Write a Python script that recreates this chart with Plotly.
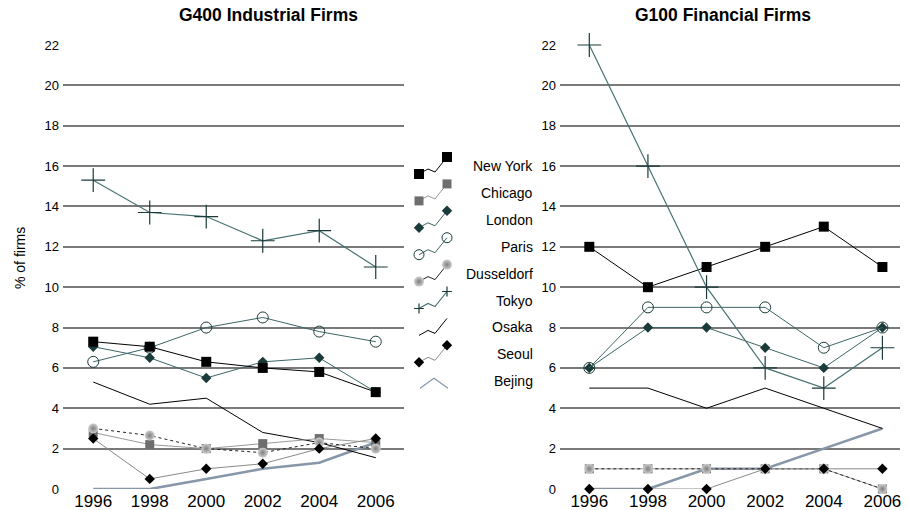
import plotly.graph_objects as go

years = [1996, 1998, 2000, 2002, 2004, 2006]
cities = ["New York", "Chicago", "London", "Paris", "Dusseldorf", "Tokyo", "Osaka", "Seoul", "Bejing"]

# G400 Industrial Firms (% of firms)
ind_new_york = [7.3, 7.05, 6.3, 6.0, 5.8, 4.8]
ind_chicago = [2.8, 2.2, 2.0, 2.25, 2.5, 2.3]
ind_london = [7.05, 6.5, 5.5, 6.3, 6.5, 4.8]
ind_paris = [6.3, 7.0, 8.0, 8.5, 7.8, 7.3]
ind_dusseldorf = [3.0, 2.65, 2.0, 1.8, 2.3, 2.0]
ind_tokyo = [15.3, 13.7, 13.5, 12.3, 12.8, 11.0]
ind_osaka = [5.3, 4.2, 4.5, 2.8, 2.3, 1.55]
ind_seoul = [2.5, 0.5, 1.0, 1.25, 2.0, 2.5]
ind_beijing = [0.0, 0.0, 0.5, 1.0, 1.3, 2.3]

# G100 Financial Firms (% of firms)
fin_new_york = [12, 10, 11, 12, 13, 11]
fin_chicago = [1, 1, 1, 1, 1, 0]
fin_london = [6, 8, 8, 7, 6, 8]
fin_paris = [6, 9, 9, 9, 7, 8]
fin_dusseldorf = [1, 1, 1, 1, 1, 0]
fin_tokyo = [22, 16, 10, 6, 5, 7]
fin_osaka = [5, 5, 4, 5, 4, 3]
fin_seoul = [0, 0, 0, 1, 1, 1]
fin_beijing = [0, 0, 1, 1, 2, 3]

y_ticks = list(range(0, 23, 2))

industrial = [ind_new_york, ind_chicago, ind_london, ind_paris, ind_dusseldorf,
              ind_tokyo, ind_osaka, ind_seoul, ind_beijing]
financial = [fin_new_york, fin_chicago, fin_london, fin_paris, fin_dusseldorf,
             fin_tokyo, fin_osaka, fin_seoul, fin_beijing]

TEAL = "#3d6666"
DARK = "#1b3a3a"
styles = {
    "New York": dict(line=dict(color="#000000", width=1),
                     marker=dict(symbol="square", size=10, color="#000000")),
    "Chicago": dict(line=dict(color="#9a9a9a", width=1),
                    marker=dict(symbol="square", size=9, color="#6e6e6e")),
    "London": dict(line=dict(color=TEAL, width=1),
                   marker=dict(symbol="diamond", size=8, color=DARK)),
    "Paris": dict(line=dict(color=TEAL, width=1),
                  marker=dict(symbol="circle-open", size=11, color=DARK, line=dict(width=1))),
    "Dusseldorf": dict(line=dict(color="#222222", width=1, dash="dot"),
                       marker=dict(symbol="circle", size=10, color="#cfcfcf",
                                   gradient=dict(type="radial", color="#7e7e7e"))),
    "Tokyo": dict(line=dict(color="#4a7272", width=1.2),
                  marker=dict(symbol="cross-thin", size=17, color=DARK,
                              line=dict(width=1.2, color=DARK))),
    "Osaka": dict(line=dict(color="#000000", width=1), marker=None),
    "Seoul": dict(line=dict(color="#8a8a8a", width=1),
                  marker=dict(symbol="diamond", size=8, color="#000000")),
    "Bejing": dict(line=dict(color="#8796a8", width=2.6), marker=None),
}

fig = go.Figure()

def add_series(values, name, xa, ya):
    st = styles[name]
    kw = dict(x=years, y=values, name=name, xaxis=xa, yaxis=ya,
              showlegend=False, line=st["line"], cliponaxis=False)
    if st["marker"] is None:
        kw["mode"] = "lines"
    else:
        kw["mode"] = "lines+markers"
        kw["marker"] = st["marker"]
    fig.add_trace(go.Scatter(**kw))

draw_order = ["Bejing", "Osaka", "Chicago", "Dusseldorf", "Seoul", "London", "Paris", "New York", "Tokyo"]
for nm in draw_order:
    i = cities.index(nm)
    add_series(industrial[i], nm, "x", "y")
    add_series(financial[i], nm, "x2", "y2")

# custom legend on a pixel-like helper axis (legend glyph style only)
ICON_X = [419, 428, 435, 447]
ICON_DY = [8, 3, 6, -9]
CARET_X = [420, 434, 448]
CARET_DY = [7, -3, 7]
LEG_Y0 = 166
LEG_STEP = 26.9
for k, nm in enumerate(cities):
    cy = LEG_Y0 + k * LEG_STEP
    st = styles[nm]
    if nm == "Bejing":
        fig.add_trace(go.Scatter(x=CARET_X, y=[cy + d for d in CARET_DY], mode="lines",
                                 line=dict(color="#8796a8", width=1.2), xaxis="x3", yaxis="y3",
                                 showlegend=False, hoverinfo="skip"))
    else:
        ln = dict(st["line"])
        ln["dash"] = "solid"
        fig.add_trace(go.Scatter(x=ICON_X, y=[cy + d for d in ICON_DY], mode="lines",
                                 line=ln, xaxis="x3", yaxis="y3",
                                 showlegend=False, hoverinfo="skip"))
        if st["marker"] is not None:
            mk = dict(st["marker"])
            if nm == "Tokyo":
                mk = dict(symbol="cross-thin", size=7, color=DARK, line=dict(width=1.2, color=DARK))
            elif nm == "Paris":
                mk = dict(symbol="circle-open", size=10, color=DARK, line=dict(width=1))
            fig.add_trace(go.Scatter(x=[ICON_X[0], ICON_X[-1]], y=[cy + ICON_DY[0], cy + ICON_DY[-1]],
                                     mode="markers", marker=mk, xaxis="x3", yaxis="y3",
                                     showlegend=False, hoverinfo="skip", cliponaxis=False))
    fig.add_annotation(x=535, y=cy, xref="x3", yref="y3", text=nm, showarrow=False,
                       xanchor="right", yanchor="middle",
                       font=dict(family="Liberation Sans, Arial", size=14, color="#000000"))

L, R, T, B = 63, 8, 45, 21
W, H = 908, 510
pw = W - L - R
ph = H - T - B

def dom(a, b):
    return [(a - L) / pw, (b - L) / pw]

axis_font = dict(family="Liberation Sans, Arial", size=13, color="#000000")
x_font = dict(family="Liberation Sans, Arial", size=17, color="#000000")

yaxis_common = dict(range=[0, 22], tickvals=y_ticks, showgrid=True, gridcolor="#7a7a7a",
                    gridwidth=1.6, zeroline=False, showline=False, ticks="",
                    tickfont=axis_font, ticklabelstandoff=3, automargin=False)
xaxis_common = dict(tickvals=years, showgrid=False, zeroline=False, showline=False,
                    ticks="", tickfont=x_font, ticklabelstandoff=0, automargin=False)

fig.update_layout(
    width=W, height=H,
    margin=dict(l=L, r=R, t=T, b=B),
    paper_bgcolor="white", plot_bgcolor="white",
    font=dict(family="Liberation Sans, Arial", color="#000000"),
    xaxis=dict(domain=dom(63, 404), range=[1994.93, 2007.0], anchor="y", **xaxis_common),
    yaxis=dict(domain=[0, 1], anchor="x", **yaxis_common),
    xaxis2=dict(domain=dom(560, 900), range=[1995.0, 2006.6], anchor="y2", **xaxis_common),
    yaxis2=dict(domain=[0, 1], anchor="x2", **yaxis_common),
    xaxis3=dict(domain=dom(410, 540), range=[410, 540], visible=False, anchor="y3",
                fixedrange=True, automargin=False),
    yaxis3=dict(domain=[0, 1], range=[489, 45], visible=False, anchor="x3",
                fixedrange=True, automargin=False),
    showlegend=False,
)

fig.add_annotation(x=(268 - L) / pw, y=(H - B - 15) / ph, xref="paper", yref="paper",
                   text="<b>G400 Industrial Firms</b>", showarrow=False,
                   xanchor="center", yanchor="middle",
                   font=dict(family="Liberation Sans, Arial", size=17.5, color="#000000"))
fig.add_annotation(x=(723 - L) / pw, y=(H - B - 15) / ph, xref="paper", yref="paper",
                   text="<b>G100 Financial Firms</b>", showarrow=False,
                   xanchor="center", yanchor="middle",
                   font=dict(family="Liberation Sans, Arial", size=17.5, color="#000000"))
fig.add_annotation(x=(20 - L) / pw, y=(H - B - 258) / ph, xref="paper", yref="paper",
                   text="% of firms", showarrow=False, textangle=-90,
                   xanchor="center", yanchor="middle",
                   font=dict(family="Liberation Sans, Arial", size=14, color="#000000"))

fig.write_html("out.html", config={"displayModeBar": False},
               post_script="document.body.style.margin='0px';")
